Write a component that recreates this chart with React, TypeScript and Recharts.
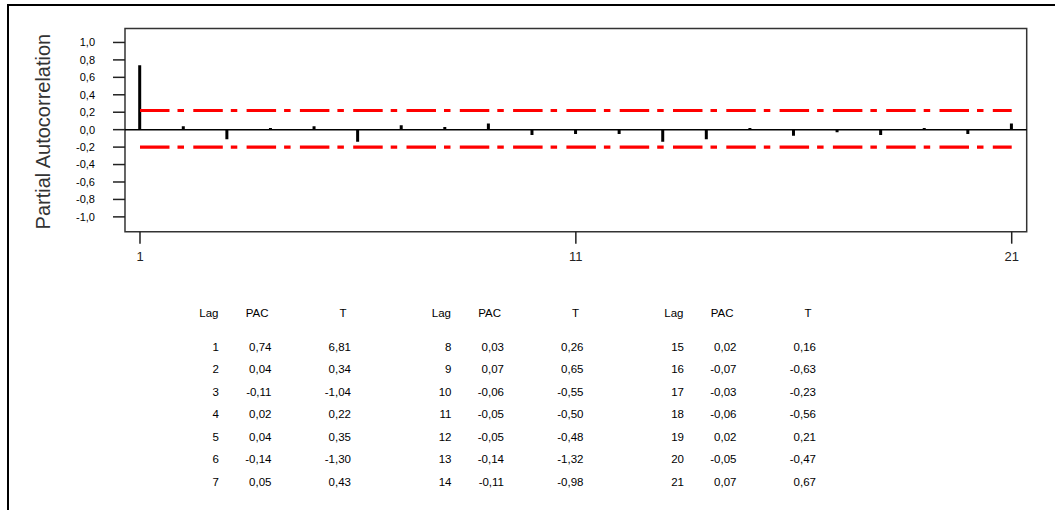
import React from 'react';
import { ComposedChart, Bar, XAxis, YAxis, ReferenceLine, ReferenceArea, Label } from 'recharts';

const lags = [1, 2, 3, 4, 5, 6, 7, 8, 9, 10, 11, 12, 13, 14, 15, 16, 17, 18, 19, 20, 21];
const pacValues = [0.74, 0.04, -0.11, 0.02, 0.04, -0.14, 0.05, 0.03, 0.07, -0.06, -0.05, -0.05, -0.14, -0.11, 0.02, -0.07, -0.03, -0.06, 0.02, -0.05, 0.07];
const tValues = [6.81, 0.34, -1.04, 0.22, 0.35, -1.3, 0.43, 0.26, 0.65, -0.55, -0.5, -0.48, -1.32, -0.98, 0.16, -0.63, -0.23, -0.56, 0.21, -0.47, 0.67];
const yTicks = [-1.0, -0.8, -0.6, -0.4, -0.2, 0.0, 0.2, 0.4, 0.6, 0.8, 1.0];
const xTicks = [1, 11, 21];
const upperLimit = 0.22;
const lowerLimit = -0.2;

const X_DOMAIN: [number, number] = [0.656, 21.344];
const Y_DOMAIN: [number, number] = [-1.17, 1.16];

const data = lags.map((lag, i) => ({ lag, pac: pacValues[i] }));

const fmt1 = (v: number) => (Math.abs(v) < 1e-9 ? '0,0' : v.toFixed(1).replace('.', ','));
const fmt2 = (v: number) => v.toFixed(2).replace('.', ',');

const TABLE_FONT = '"Liberation Sans", Arial, sans-serif';

function Cell({ right, cy, text }: { right: number; cy: number; text: string }) {
  return (
    <div
      style={{
        position: 'absolute',
        left: right - 80,
        width: 80,
        top: cy - 7,
        height: 14,
        lineHeight: '14px',
        textAlign: 'right',
        fontFamily: TABLE_FONT,
        fontSize: 11.5,
        color: '#000',
        whiteSpace: 'nowrap',
      }}
    >
      {text}
    </div>
  );
}

export default function App() {
  const groupOffset = 232.5;
  const headerY = 313;
  const rowY0 = 346.7;
  const rowStep = 22.5;
  const cells: React.ReactNode[] = [];
  for (let g = 0; g < 3; g++) {
    const off = g * groupOffset;
    cells.push(<Cell key={`hl${g}`} right={218.5 + off} cy={headerY} text="Lag" />);
    cells.push(<Cell key={`hp${g}`} right={268.5 + off} cy={headerY} text="PAC" />);
    cells.push(<Cell key={`ht${g}`} right={346.5 + off} cy={headerY} text="T" />);
    for (let r = 0; r < 7; r++) {
      const i = g * 7 + r;
      const cy = rowY0 + r * rowStep;
      cells.push(<Cell key={`l${i}`} right={219 + off} cy={cy} text={String(lags[i])} />);
      cells.push(<Cell key={`p${i}`} right={271.5 + off} cy={cy} text={fmt2(pacValues[i])} />);
      cells.push(<Cell key={`t${i}`} right={351 + off} cy={cy} text={fmt2(tValues[i])} />);
    }
  }

  return (
    <div
      style={{
        position: 'absolute',
        left: 0,
        top: 0,
        width: 1055,
        height: 510,
        overflow: 'hidden',
        background: '#fff',
      }}
    >
      <div
        style={{
          position: 'absolute',
          left: 7,
          top: 4,
          width: 1200,
          height: 700,
          border: '2px solid #000',
          boxSizing: 'border-box',
        }}
      />
      <div style={{ position: 'absolute', left: 0, top: 0 }}>
        <ComposedChart
          width={1055}
          height={510}
          data={data}
          margin={{ top: 28.5, right: 28.3, bottom: 248.3, left: 0 }}
        >
          <XAxis
            dataKey="lag"
            type="number"
            domain={X_DOMAIN}
            ticks={xTicks}
            allowDataOverflow
            axisLine={false}
            tickLine={{ stroke: '#222', strokeWidth: 1.5 }}
            tickSize={12}
            tickMargin={8}
            height={30}
            interval={0}
            tick={{ fill: '#222', fontSize: 13, fontFamily: TABLE_FONT }}
          />
          <YAxis
            type="number"
            domain={Y_DOMAIN}
            ticks={yTicks}
            allowDataOverflow
            width={125}
            axisLine={false}
            tickLine={{ stroke: '#222', strokeWidth: 1.5 }}
            tickSize={12}
            tickMargin={18}
            interval={0}
            tickFormatter={fmt1}
            tick={{ fill: '#000', fontSize: 11, fontFamily: TABLE_FONT }}
          >
            <Label
              value="Partial Autocorrelation"
              angle={-90}
              position="center"
              dx={-19.5}
              dy={1.5}
              style={{ fill: '#333', fontSize: 20, fontFamily: TABLE_FONT, textAnchor: 'middle' }}
            />
          </YAxis>
          <ReferenceArea
            x1={X_DOMAIN[0]}
            x2={X_DOMAIN[1]}
            y1={Y_DOMAIN[0]}
            y2={Y_DOMAIN[1]}
            fill="none"
            fillOpacity={0}
            stroke="#333"
            strokeWidth={1.5}
            ifOverflow="visible"
          />
          <ReferenceLine y={0} stroke="#000" strokeWidth={1.5} />
          <ReferenceLine
            segment={[{ x: 1, y: upperLimit }, { x: 21, y: upperLimit }]}
            stroke="#ff0000"
            strokeWidth={3.2}
            strokeDasharray="29.5 8 6.5 9.3"
          />
          <ReferenceLine
            segment={[{ x: 1, y: lowerLimit }, { x: 21, y: lowerLimit }]}
            stroke="#ff0000"
            strokeWidth={3.2}
            strokeDasharray="29.5 8 6.5 9.3"
          />
          <Bar dataKey="pac" fill="#000" barSize={3} isAnimationActive={false} />
        </ComposedChart>
      </div>
      {cells}
    </div>
  );
}
